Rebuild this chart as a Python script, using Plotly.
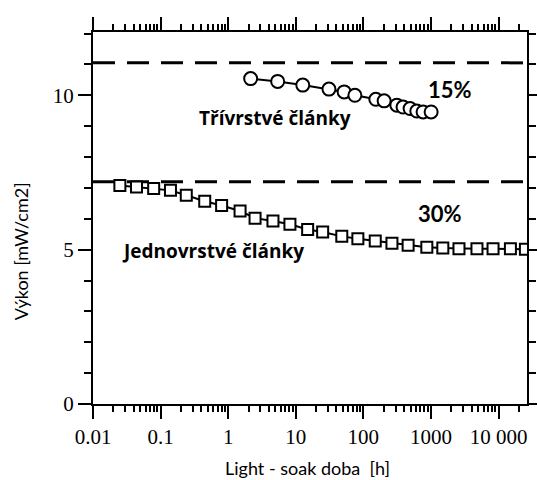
import plotly.graph_objects as go

# ---- data ----
triple_x = [2.15, 5.4, 12.7, 31, 52, 75, 153, 203, 313, 387, 492, 618, 766, 1007]
triple_y = [10.54, 10.45, 10.33, 10.20, 10.11, 10.00, 9.87, 9.82, 9.68, 9.62, 9.57, 9.49, 9.46, 9.46]

single_x = [0.025, 0.044, 0.079, 0.14, 0.24, 0.45, 0.8, 1.5, 2.5, 4.6, 8.2, 15, 25, 48,
            83, 150, 265, 460, 870, 1500, 2600, 4800, 8300, 15000, 25000]
single_y = [7.08, 7.03, 6.98, 6.92, 6.76, 6.57, 6.43, 6.25, 6.02, 5.93, 5.82, 5.65, 5.57, 5.43,
            5.35, 5.28, 5.21, 5.14, 5.08, 5.05, 5.03, 5.03, 5.03, 5.03, 5.01]

dashed_levels = [11.05, 7.2]

x_tick_vals = [0.01, 0.1, 1, 10, 100, 1000, 10000]
x_tick_text = ["0.01", "0.1", "1", "10", "100", "1000", "10 000"]
x_minor_vals = [m * 10 ** e for e in range(-2, 5) for m in range(2, 10) if m * 10 ** e <= 26000]

y_tick_vals = [0, 5, 10]
y_tick_text = ["0", "5", "10"]
y_minor_vals = [1, 2, 3, 4, 6, 7, 8, 9, 11, 12]

labels = ["Třívrstvé články", "15%", "30%", "Jednovrstvé články"]
x_title = "Light - soak doba  [h]"
y_title = "Výkon [mW/cm2]"

fig = go.Figure()

fig.add_trace(go.Scatter(
    x=single_x, y=single_y, mode="lines+markers",
    line=dict(color="black", width=2),
    marker=dict(symbol="square", size=11, color="white", line=dict(color="black", width=2)),
))
fig.add_trace(go.Scatter(
    x=triple_x, y=triple_y, mode="lines+markers",
    line=dict(color="black", width=2),
    marker=dict(symbol="circle", size=13, color="white", line=dict(color="black", width=2)),
))

for lv in dashed_levels:
    fig.add_hline(y=lv, line=dict(color="black", width=3, dash="22px,12px"), layer="below")

tickfont = dict(family="Liberation Serif", size=21, color="black")
lblfont = dict(family="Open Sans", size=19, color="black", weight="bold")
pctfont = dict(family="Lato", size=22, color="black", weight="bold")
titlefont = dict(family="Lato", size=18, color="black")

fig.update_xaxes(
    type="log", range=[-2, 4.4216], automargin=False,
    tickmode="array", tickvals=x_tick_vals, ticktext=x_tick_text,
    ticks="outside", ticklen=13, tickwidth=2, tickcolor="black",
    minor=dict(tickmode="array", tickvals=x_minor_vals, ticks="outside", ticklen=6,
               tickwidth=1.5, tickcolor="black", showgrid=False),
    showline=True, linecolor="black", linewidth=2, mirror="allticks",
    showgrid=False, zeroline=False, tickfont=tickfont,
)
fig.update_yaxes(
    range=[0, 12.05], automargin=False,
    tickmode="array", tickvals=y_tick_vals, ticktext=y_tick_text,
    ticks="outside", ticklen=13, tickwidth=2, tickcolor="black",
    minor=dict(tickmode="array", tickvals=y_minor_vals, ticks="outside", ticklen=7,
               tickwidth=1.5, tickcolor="black", showgrid=False),
    showline=True, linecolor="black", linewidth=2, mirror="allticks",
    showgrid=False, zeroline=False, tickfont=tickfont,
)

fig.add_annotation(text=labels[0], xref="paper", yref="paper", x=0.42, y=0.768,
                   showarrow=False, font=lblfont, xanchor="center", yanchor="middle")
fig.add_annotation(text=labels[1], xref="paper", yref="paper", x=0.822, y=0.846,
                   showarrow=False, font=pctfont, xanchor="center", yanchor="middle")
fig.add_annotation(text=labels[2], xref="paper", yref="paper", x=0.80, y=0.513,
                   showarrow=False, font=pctfont, xanchor="center", yanchor="middle")
fig.add_annotation(text=labels[3], xref="paper", yref="paper", x=0.277, y=0.41,
                   showarrow=False, font=lblfont, xanchor="center", yanchor="middle")

fig.add_annotation(text=x_title, xref="paper", yref="paper", x=0.495, y=-0.171,
                   showarrow=False, font=titlefont,
                   xanchor="center", yanchor="middle")
fig.add_annotation(text=y_title, xref="paper", yref="paper", x=-0.164, y=0.41,
                   showarrow=False, textangle=-90, font=titlefont,
                   xanchor="center", yanchor="middle")

fig.update_layout(
    width=537, height=480,
    margin=dict(l=93, r=10, t=32, b=76),
    paper_bgcolor="white", plot_bgcolor="white",
    showlegend=False,
)

fig.write_html("out.html")
